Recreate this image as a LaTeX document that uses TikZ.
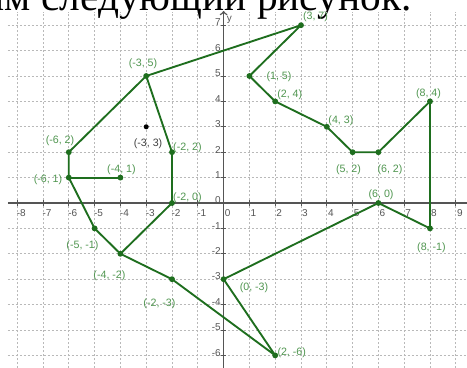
\documentclass[tikz,border=0pt]{standalone}
\usepackage{fontspec}
\setmainfont{Liberation Serif}
\setsansfont{Liberation Sans}
\usetikzlibrary{positioning}
\definecolor{ggbline}{RGB}{30,110,30}
\definecolor{ggblabel}{RGB}{80,150,80}
\definecolor{ggbgrid}{RGB}{185,185,185}
\definecolor{ggbaxis}{RGB}{85,85,85}
\tikzset{
  gridline/.style={draw=ggbgrid,line width=0.7pt,dash pattern=on 1.5pt off 1.5pt},
  axisline/.style={draw=ggbaxis,line width=1.1pt},
  seg/.style={draw=ggbline,line width=1.4pt,line join=round},
  lbl/.style={text=ggblabel,font=\sffamily\fontsize{8}{9}\selectfont,inner sep=0pt},
  ticklbl/.style={text=ggbaxis,font=\sffamily\fontsize{7.5}{9}\selectfont,inner sep=0pt},
}
\begin{document}
\begin{tikzpicture}[x=19.35pt,y=19.05pt,>=to]
	\useasboundingbox (-8.667,-6.457) rectangle (9.434,7.992);
	\fill[white] (-8.667,-6.457) rectangle (9.434,7.992);
	% caption cut off at the top
	\node[anchor=base east,inner sep=0pt,font=\fontsize{31}{36}\selectfont] (cap) at (7.30,7.58) {Получим следующий рисунок.};
	% grid
	\foreach \k in {-8,...,9} \draw[gridline] (\k,-6.5) -- (\k,7.53);
	\foreach \k in {-6,...,7} \draw[gridline] (-8.36,\k) -- (9.5,\k);
	% axes
	\draw[axisline] (-8.36,0) -- (9.5,0);
	\draw[axisline,->] (0,-6.5) -- (0,7.56);
	\node[ticklbl] (ylab) at (0.22,7.2) {y};
	\foreach \k in {-8,...,9}{
		\draw[axisline,line width=0.6pt] (\k,-0.1) -- (\k,0.1);
		\node[ticklbl,anchor=north] (x\k) at ([xshift=3pt,yshift=-5pt]\k,0) {\k};
	}
	\foreach \k in {-6,...,7}{
		\draw[axisline,line width=0.6pt] (-0.1,\k) -- (0.1,\k);
		\node[ticklbl,anchor=east] (y\k) at ([xshift=-2pt,yshift=2pt]0,\k) {\k};
	}
	% points
	\coordinate (A) at (3,7);
	\coordinate (B) at (1,5);
	\coordinate (C) at (2,4);
	\coordinate (D) at (4,3);
	\coordinate (E) at (5,2);
	\coordinate (F) at (6,2);
	\coordinate (G) at (8,4);
	\coordinate (H) at (8,-1);
	\coordinate (I) at (6,0);
	\coordinate (J) at (0,-3);
	\coordinate (K) at (2,-6);
	\coordinate (L) at (-2,-3);
	\coordinate (M) at (-4,-2);
	\coordinate (N) at (-5,-1);
	\coordinate (O) at (-6,1);
	\coordinate (P) at (-4,1);
	\coordinate (Q) at (-6,2);
	\coordinate (R) at (-3,5);
	\coordinate (S) at (-2,2);
	\coordinate (T) at (-2,0);
	\coordinate (U) at (-3,3);
	% outline
	\draw[seg] (A) -- (B) -- (C) -- (D) -- (E) -- (F) -- (G) -- (H) -- (I) -- (J) -- (K) -- (L)
		-- (M) -- (N) -- (O) -- (Q) -- (R) -- cycle;
	\draw[seg] (O) -- (P);
	\draw[seg] (R) -- (S) -- (T) -- (M);
	\foreach \p in {A,B,C,D,E,F,G,H,I,J,K,L,M,N,O,P,Q,R,S,T}
		\fill[ggbline] (\p) circle(2.2pt);
	\fill[black] (U) circle(1.9pt);
	% labels
	\node[lbl] (lA) at ([shift={(10.9pt,6.4pt)}]A) {(3, 7)};
	\node[lbl] (lB) at ([shift={(22.2pt,-0.7pt)}]B) {(1, 5)};
	\node[lbl] (lC) at ([shift={(10.9pt,4.8pt)}]C) {(2, 4)};
	\node[lbl] (lD) at ([shift={(10.6pt,4.7pt)}]D) {(4, 3)};
	\node[lbl] (lE) at ([shift={(-3.1pt,-13pt)}]E) {(5, 2)};
	\node[lbl] (lF) at ([shift={(8.7pt,-13.4pt)}]F) {(6, 2)};
	\node[lbl] (lG) at ([shift={(-1.1pt,5.9pt)}]G) {(8, 4)};
	\node[lbl] (lH) at ([shift={(1.1pt,-14.7pt)}]H) {(8, -1)};
	\node[lbl] (lI) at ([shift={(2pt,6pt)}]I) {(6, 0)};
	\node[lbl] (lJ) at ([shift={(22.8pt,-6.6pt)}]J) {(0, -3)};
	\node[lbl] (lK) at ([shift={(12.4pt,1.8pt)}]K) {(2, -6)};
	\node[lbl] (lL) at ([shift={(-9.4pt,-18.2pt)}]L) {(-2, -3)};
	\node[lbl] (lM) at ([shift={(-8.2pt,-16.3pt)}]M) {(-4, -2)};
	\node[lbl] (lN) at ([shift={(-9.1pt,-12.8pt)}]N) {(-5, -1)};
	\node[lbl] (lO) at ([shift={(-15.6pt,-1.9pt)}]O) {(-6, 1)};
	\node[lbl] (lP) at ([shift={(0.8pt,6pt)}]P) {(-4, 1)};
	\node[lbl] (lQ) at ([shift={(-6.6pt,8.4pt)}]Q) {(-6, 2)};
	\node[lbl] (lR) at ([shift={(-2.4pt,9pt)}]R) {(-3, 5)};
	\node[lbl] (lS) at ([shift={(11.6pt,3.5pt)}]S) {(-2, 2)};
	\node[lbl] (lT) at ([shift={(11.6pt,3.8pt)}]T) {(-2, 0)};
	\node[lbl,text=black!75] (lU) at ([shift={(1.4pt,-12.5pt)}]U) {(-3, 3)};
\end{tikzpicture}
\end{document}
